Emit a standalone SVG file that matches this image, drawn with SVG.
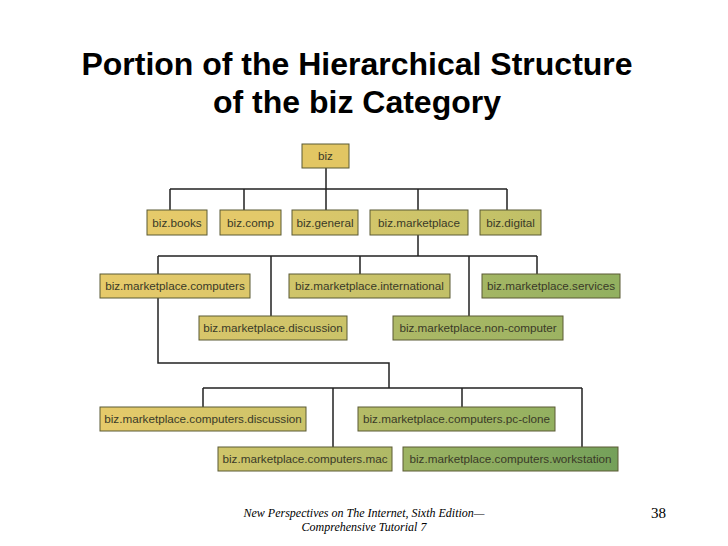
<svg xmlns="http://www.w3.org/2000/svg" width="728" height="546" viewBox="0 0 728 546">
<style>
.title{font-family:"Liberation Sans",Arial,sans-serif;font-weight:bold;font-size:32px;fill:#000;text-anchor:middle}
.foot{font-family:"Liberation Serif","Times New Roman",serif;font-style:italic;font-size:12px;fill:#000;text-anchor:middle}
.pg{font-family:"Liberation Serif","Times New Roman",serif;font-size:15px;fill:#000}
.box{stroke:#5b5a35;stroke-width:1}
.lbl{font-family:"Liberation Sans",Arial,sans-serif;font-size:11.7px;fill:#3a3a28;text-anchor:middle}
.con{fill:none;stroke:#222;stroke-width:1.5}
</style>
<defs>
<linearGradient id="g-books"><stop offset="0" stop-color="#e6ca6a"/><stop offset="1" stop-color="#e4c96a"/></linearGradient>
<linearGradient id="g-comp"><stop offset="0" stop-color="#e4c96a"/><stop offset="1" stop-color="#e2c96a"/></linearGradient>
<linearGradient id="g-general"><stop offset="0" stop-color="#dcc76a"/><stop offset="1" stop-color="#d6c66a"/></linearGradient>
<linearGradient id="g-market"><stop offset="0" stop-color="#d2c56a"/><stop offset="1" stop-color="#c9c369"/></linearGradient>
<linearGradient id="g-digital"><stop offset="0" stop-color="#c6c268"/><stop offset="1" stop-color="#bfbf67"/></linearGradient>
<linearGradient id="g-computers"><stop offset="0" stop-color="#e6ca6a"/><stop offset="1" stop-color="#dcc76a"/></linearGradient>
<linearGradient id="g-intl"><stop offset="0" stop-color="#d0c56a"/><stop offset="1" stop-color="#c2c068"/></linearGradient>
<linearGradient id="g-services"><stop offset="0" stop-color="#a4b664"/><stop offset="1" stop-color="#92b060"/></linearGradient>
<linearGradient id="g-disc"><stop offset="0" stop-color="#d8c66a"/><stop offset="1" stop-color="#cbc369"/></linearGradient>
<linearGradient id="g-noncomp"><stop offset="0" stop-color="#aeb966"/><stop offset="1" stop-color="#9cb362"/></linearGradient>
<linearGradient id="g-cdisc"><stop offset="0" stop-color="#e6ca6a"/><stop offset="1" stop-color="#cbc369"/></linearGradient>
<linearGradient id="g-pc"><stop offset="0" stop-color="#b6bc67"/><stop offset="1" stop-color="#92b060"/></linearGradient>
<linearGradient id="g-mac"><stop offset="0" stop-color="#d0c56a"/><stop offset="1" stop-color="#afb966"/></linearGradient>
<linearGradient id="g-ws"><stop offset="0" stop-color="#9eb463"/><stop offset="1" stop-color="#74a05a"/></linearGradient>
</defs>
<rect width="728" height="546" fill="#fff"/>
<text class="title" x="357" y="75">Portion of the Hierarchical Structure</text>
<text class="title" x="357" y="113">of the biz Category</text>

<g id="connectors">
<path class="con" d="M326,168 V189 M170,189 H507 M170,189 V210 M244,189 V210 M326,189 V210 M418,189 V210 M507,189 V210"/>
<path class="con" d="M418,235 V256 M158,256 H537 M158,256 V274 M271,256 V316 M360,256 V274 M469,256 V316 M537,256 V274"/>
<path class="con" d="M158,298 V363 H389 V388 M203,388 H582 M203,388 V407 M333,388 V447 M462,388 V407 M582,388 V447"/>
</g>

<g id="biz"><rect class="box" x="302" y="144" width="47" height="24" fill="#e2c663"/><text class="lbl" x="325.5" y="160">biz</text></g>

<g id="biz-books"><rect class="box" x="147" y="210" width="60" height="25" fill="url(#g-books)"/><text class="lbl" x="177" y="226.5">biz.books</text></g>
<g id="biz-comp"><rect class="box" x="220" y="210" width="61" height="25" fill="url(#g-comp)"/><text class="lbl" x="250.5" y="226.5">biz.comp</text></g>
<g id="biz-general"><rect class="box" x="292" y="210" width="66" height="25" fill="url(#g-general)"/><text class="lbl" x="325" y="226.5">biz.general</text></g>
<g id="biz-marketplace"><rect class="box" x="370" y="210" width="98" height="25" fill="url(#g-market)"/><text class="lbl" x="419" y="226.5">biz.marketplace</text></g>
<g id="biz-digital"><rect class="box" x="480" y="210" width="61" height="25" fill="url(#g-digital)"/><text class="lbl" x="510.5" y="226.5">biz.digital</text></g>

<g id="mp-computers"><rect class="box" x="100" y="274" width="150" height="24" fill="url(#g-computers)"/><text class="lbl" x="175" y="290">biz.marketplace.computers</text></g>
<g id="mp-international"><rect class="box" x="289" y="274" width="161" height="24" fill="url(#g-intl)"/><text class="lbl" x="369.5" y="290">biz.marketplace.international</text></g>
<g id="mp-services"><rect class="box" x="482" y="274" width="138" height="24" fill="url(#g-services)"/><text class="lbl" x="551" y="290">biz.marketplace.services</text></g>
<g id="mp-discussion"><rect class="box" x="199" y="316" width="148" height="24" fill="url(#g-disc)"/><text class="lbl" x="273" y="332">biz.marketplace.discussion</text></g>
<g id="mp-noncomputer"><rect class="box" x="393" y="316" width="170" height="24" fill="url(#g-noncomp)"/><text class="lbl" x="478" y="332">biz.marketplace.non-computer</text></g>

<g id="mpc-discussion"><rect class="box" x="100" y="407" width="206" height="24" fill="url(#g-cdisc)"/><text class="lbl" x="203" y="423">biz.marketplace.computers.discussion</text></g>
<g id="mpc-pcclone"><rect class="box" x="358" y="407" width="197" height="24" fill="url(#g-pc)"/><text class="lbl" x="456.5" y="423">biz.marketplace.computers.pc-clone</text></g>
<g id="mpc-mac"><rect class="box" x="218" y="447" width="174" height="24" fill="url(#g-mac)"/><text class="lbl" x="305" y="463">biz.marketplace.computers.mac</text></g>
<g id="mpc-workstation"><rect class="box" x="403" y="447" width="215" height="24" fill="url(#g-ws)"/><text class="lbl" x="510.5" y="463">biz.marketplace.computers.workstation</text></g>

<text class="foot" x="364" y="517">New Perspectives on The Internet, Sixth Edition—</text>
<text class="foot" x="364" y="531">Comprehensive Tutorial 7</text>
<text class="pg" x="651" y="518">38</text>
</svg>
